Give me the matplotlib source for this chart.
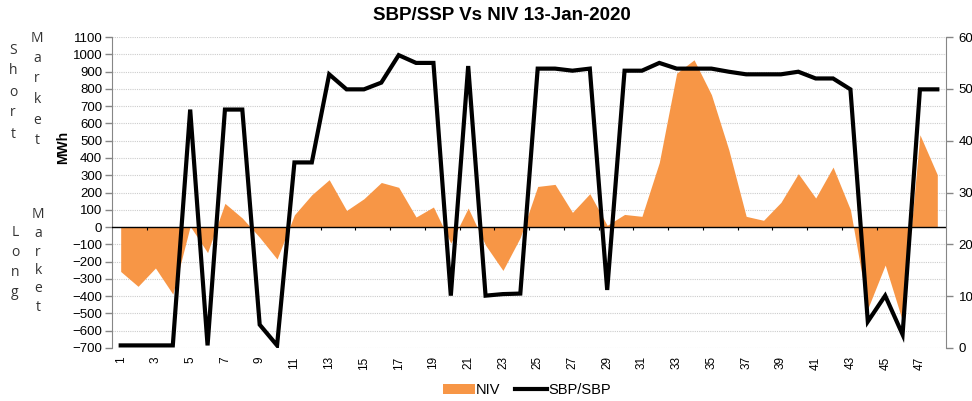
import matplotlib
matplotlib.use('Agg')
import matplotlib.pyplot as plt
from matplotlib.patches import Patch
from matplotlib.lines import Line2D

# settlement periods 1..48
periods = list(range(1, 49))

# NIV (MWh), left axis
niv = [-257, -343, -237, -388, 5, -148, 137, 52, -60, -185,
       71, 187, 274, 96, 164, 258, 230, 58, 116, -93,
       110, -105, -251, -60, 235, 247, 85, 193, 10, 73,
       62, 374, 891, 968, 766, 447, 62, 39, 143, 309,
       168, 347, 100, -472, -220, -545, 534, 303]

# SBP/SSP price, right axis
price = [0.5, 0.5, 0.5, 0.5, 46.0, 0.5, 46.0, 46.0, 4.5, 0.5,
         35.8, 35.8, 52.8, 49.9, 49.9, 51.2, 56.5, 55.0, 55.0, 10.1,
         54.4, 10.1, 10.4, 10.5, 53.9, 53.9, 53.5, 53.9, 11.2, 53.5,
         53.5, 55.0, 53.9, 53.9, 53.9, 53.3, 52.8, 52.8, 52.8, 53.3,
         52.0, 52.0, 49.9, 5.1, 10.1, 2.6, 49.9, 49.9]

title = "SBP/SSP Vs NIV 13-Jan-2020"
orange = '#F79646'
grey = '#868686'

plt.rcParams['font.family'] = ['Liberation Sans', 'DejaVu Sans']

fig = plt.figure(figsize=(9.72, 4.01), dpi=100)
ax = fig.add_axes([112 / 972, 1 - 348 / 401, (946 - 112) / 972, (348 - 37) / 401])

ax.fill_between(periods, niv, 0, color=orange, linewidth=0, zorder=2)
ax.axhline(0, color='black', linewidth=1, zorder=3)
# small category ticks along the zero line
ax.vlines([p + 0.5 for p in periods[1:-1:2]], -18, 0, color='black', linewidth=0.8, zorder=3)

ax.set_xlim(0.5, 48.5)
ax.set_ylim(-700, 1100)
ax.set_yticks(range(-700, 1101, 100))
ax.yaxis.grid(True, color='#CCCCCC', linestyle=(0, (1, 1)), linewidth=0.8, zorder=0)
ax.set_axisbelow(True)
ax.set_xticks(periods[::2])
ax.set_xticklabels([str(p) for p in periods[::2]], rotation=90, fontsize=8.5)
ax.tick_params(axis='x', length=0, pad=6)
ax.tick_params(axis='y', labelsize=9.5, length=5, color=grey, width=1, pad=2)
for s in ['top', 'bottom', 'right']:
    ax.spines[s].set_visible(False)
ax.spines['left'].set_color(grey)

ax2 = ax.twinx()
ax2.plot(periods, price, color='black', linewidth=3, solid_joinstyle='miter', zorder=4)
ax2.set_ylim(0, 60)
ax2.set_yticks(range(0, 61, 10))
ax2.tick_params(axis='y', labelsize=9.5, length=5, color=grey, width=1, pad=4)
for s in ['top', 'bottom', 'left']:
    ax2.spines[s].set_visible(False)
ax2.spines['right'].set_color(grey)

fig.text(502 / 972, 1 - 16 / 401, title, ha='center', va='center',
         fontsize=13.5, fontweight='bold')
fig.text(63 / 972, 1 - 147 / 401, 'MWh', rotation=90, ha='center', va='center',
         fontsize=10, fontweight='bold')

# stacked side labels
def stacked(word, x, y0, step):
    for i, ch in enumerate(word):
        fig.text(x / 972, 1 - (y0 + i * step) / 401, ch, ha='center', va='center',
                 fontsize=10, family=['Open Sans', 'DejaVu Sans'], color='#333333')

stacked('Short', 13, 50, 21)
stacked('Market', 37, 38, 20.5)
stacked('Long', 15, 232, 20)
stacked('Market', 38, 215, 18.5)

handles = [Patch(facecolor=orange, edgecolor='none'),
           Line2D([0], [0], color='black', linewidth=3)]
fig.legend(handles, ['NIV', 'SBP/SBP'], loc='center', bbox_to_anchor=(527 / 972, 1 - 390 / 401),
           ncol=2, frameon=False, fontsize=10.5, handlelength=2.2, handletextpad=0.1,
           columnspacing=1.0)

fig.savefig('out.png', dpi=100)
